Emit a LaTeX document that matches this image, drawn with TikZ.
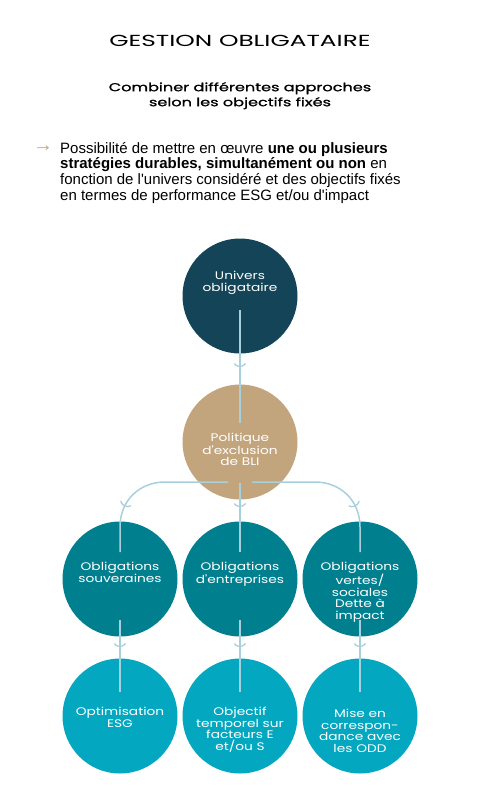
\documentclass[tikz,border=0pt]{standalone}
\usepackage{fontspec}
\setmainfont{Liberation Sans}
\newfontfamily\headfont[FakeStretch=1.55]{Poppins}
\newfontfamily\subfont[FakeStretch=1.4,FakeBold=1.2]{Poppins}
\newfontfamily\circfont[FakeStretch=1.25]{Poppins}
\newfontfamily\bodyfont{Liberation Sans}
\usetikzlibrary{arrows.meta,decorations.markings,calc}
\definecolor{cdark}{HTML}{134457}
\definecolor{cbeige}{HTML}{C2A47D}
\definecolor{cteal}{HTML}{00808F}
\definecolor{ccyan}{HTML}{03A8C0}
\definecolor{cline}{HTML}{A8D0DC}
\begin{document}
\begin{tikzpicture}[x=1pt,y=-1pt,
  circ/.style={circle, minimum size=115pt, inner sep=0pt},
  ctext/.style={text=white, font=\circfont\fontsize{11}{11.5}\selectfont, align=center, anchor=north, inner sep=0pt},
  conn/.style={draw=cline, line width=1.5pt},
  tip/.style={decoration={markings, mark=at position #1 with {\arrow{Arc Barb[arc=150,width=13pt,length=4.5pt,line width=1.3pt]}}}, postaction={decorate}}
]
\useasboundingbox (0,0) rectangle (480,809);
% texts
\node[font=\headfont\fontsize{16}{18}\selectfont] (title) at (240,41) {GESTION OBLIGATAIRE};
\node[anchor=north, align=center, inner sep=0pt, font=\subfont\fontsize{11.5}{15}\selectfont] (sub) at (240,82) {Combiner différentes approches\\ selon les objectifs fixés};
\node[text=cbeige, inner sep=0pt, font=\bodyfont\fontsize{20}{20}\selectfont] (bul) at (43,149) {→};
\node[anchor=north west, align=left, inner sep=0pt, font=\bodyfont\fontsize{15}{15.7}\selectfont] (para) at (60,142) {Possibilité de mettre en œuvre \textbf{une ou plusieurs}\\
\textbf{stratégies durables, simultanément ou non} en\\
fonction de l'univers considéré et des objectifs fixés\\
en termes de performance ESG et/ou d'impact};
% circles
\node[circ, fill=cdark] (u) at (240,296) {};
\node[circ, fill=cbeige] (p) at (240,442) {};
\node[circ, fill=cteal] (m1) at (120,579) {};
\node[circ, fill=cteal] (m2) at (240,579) {};
\node[circ, fill=cteal] (m3) at (360,579) {};
\node[circ, fill=ccyan] (b1) at (120,716) {};
\node[circ, fill=ccyan] (b2) at (240,716) {};
\node[circ, fill=ccyan] (b3) at (360,716) {};
% connectors
\draw[conn, tip=57pt] ([yshift=-14pt]u.center) -- ([yshift=19pt]p.center);
\coordinate (pl) at ([xshift=-12pt,yshift=-40pt]p.center);
\coordinate (pr) at ([xshift=12pt,yshift=-40pt]p.center);
\coordinate (pm) at ([yshift=-41pt]p.center);
\draw[conn, tip=113pt] (pl) -- ++(-63,0) .. controls ++(-25,0) and ++(0,-27) .. ([yshift=52pt]m1.center) -- ([yshift=27pt]m1.center);
\draw[conn, tip=113pt] (pr) -- ++(63,0) .. controls ++(25,0) and ++(0,-27) .. ([yshift=52pt]m3.center) -- ([yshift=27pt]m3.center);
\draw[conn, tip=24pt] (pm) -- ([yshift=27pt]m2.center);
\foreach \a/\b in {m1/b1,m2/b2,m3/b3}{
  \draw[conn, tip=27pt] ([yshift=-41pt]\a.center) -- ([yshift=24pt]\b.center);
}
% circle texts
\node[ctext] (ut) at (240,271) {Univers\\obligataire};
\node[ctext] (pt) at (240,433) {Politique\\d'exclusion\\de BLI};
\node[ctext] (m1t) at (120,562) {Obligations\\souveraines};
\node[ctext] (m2t) at (240,562) {Obligations\\d'entreprises};
\node[ctext] (m3t) at (360,562) {Obligations\\vertes/\\sociales\\Dette à\\impact};
\node[ctext] (b1t) at (120,707) {Optimisation\\ESG};
\node[ctext] (b2t) at (240,707) {Objectif\\temporel sur\\facteurs E\\et/ou S};
\node[ctext] (b3t) at (360,709) {Mise en\\correspon-\\dance avec\\les ODD};
\end{tikzpicture}
\end{document}
